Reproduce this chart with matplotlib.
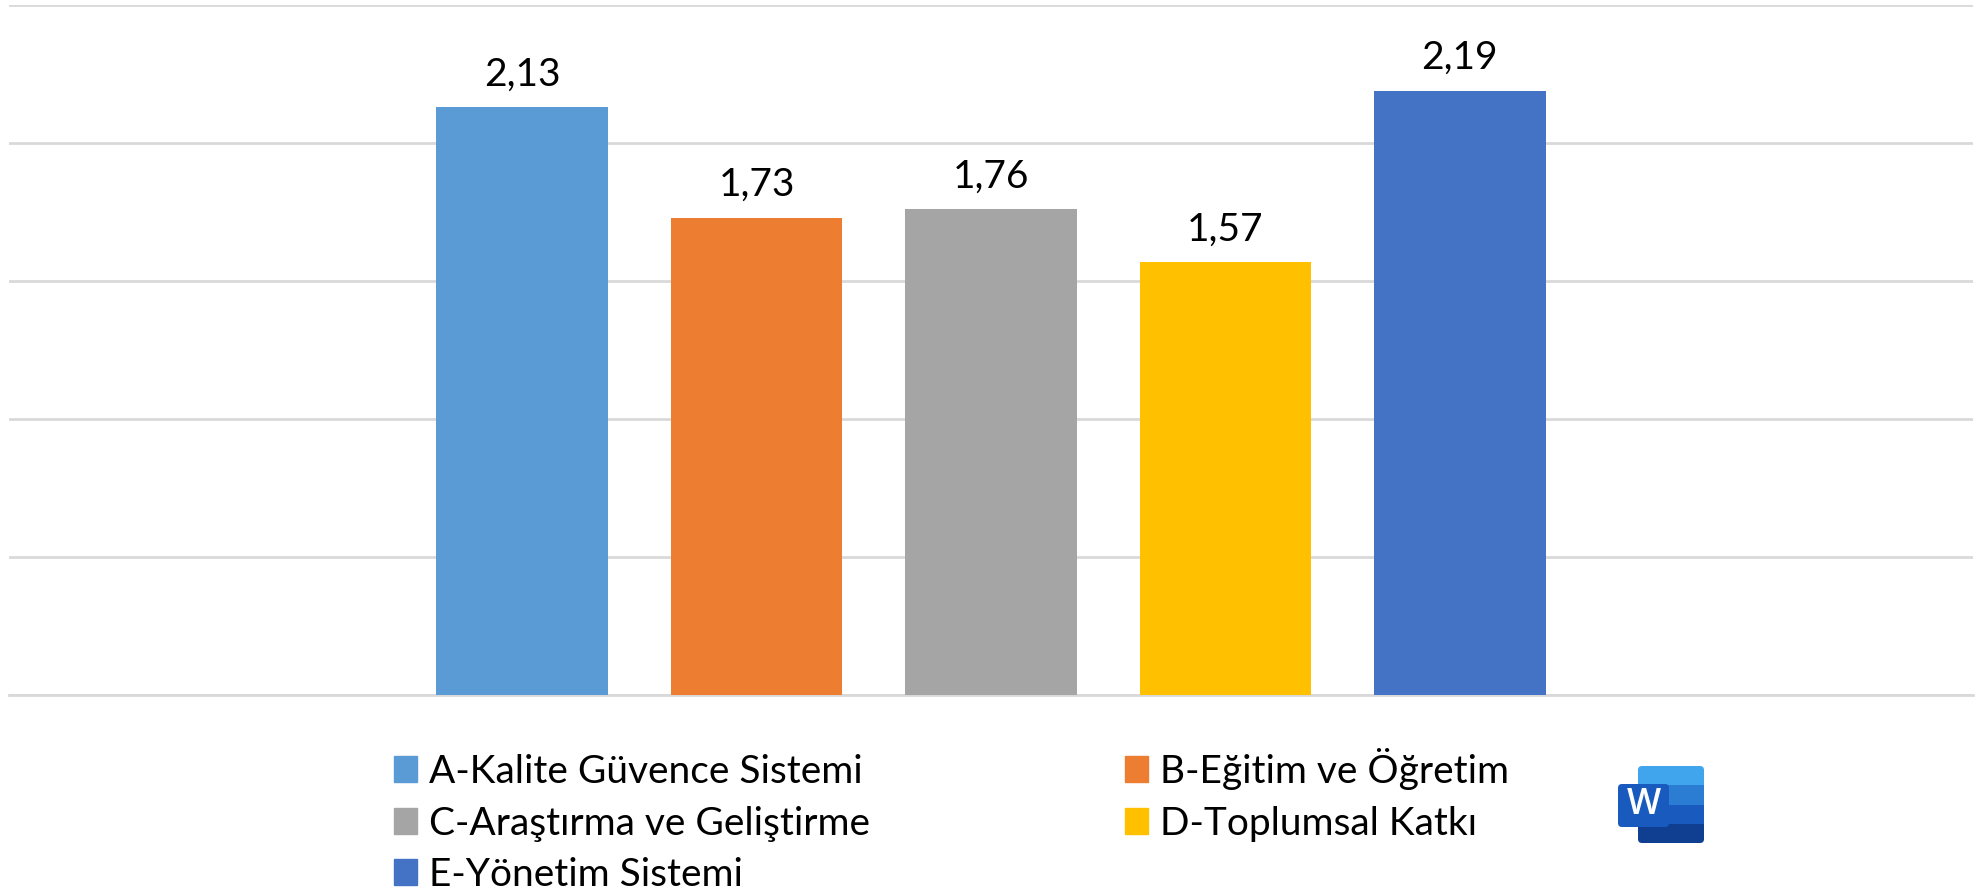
import matplotlib
matplotlib.use("Agg")
import matplotlib.pyplot as plt
from matplotlib.patches import FancyBboxPatch, Patch, Rectangle

plt.rcParams['font.family'] = ['Lato', 'DejaVu Sans']

# Data
categories = ['A-Kalite Güvence Sistemi', 'B-Eğitim ve Öğretim', 'C-Araştırma ve Geliştirme',
              'D-Toplumsal Katkı', 'E-Yönetim Sistemi']
values = [2.13, 1.73, 1.76, 1.57, 2.19]
value_labels = ['2,13', '1,73', '1,76', '1,57', '2,19']
colors = ['#5B9BD5', '#ED7D31', '#A5A5A5', '#FFC000', '#4472C4']
y_ticks = [0, 0.5, 1.0, 1.5, 2.0, 2.5]

W, H = 1988, 891
fig = plt.figure(figsize=(W / 100, H / 100), dpi=100)
ax = fig.add_axes([9 / W, 1 - 695 / H, (1973 - 9) / W, (695 - 5) / H])

x = list(range(len(values)))
bars = ax.bar(x, values, width=0.732, color=colors, zorder=3)
for xi, v, lab in zip(x, values, value_labels):
    ax.text(xi, v + 0.052, lab, ha='center', va='bottom', fontsize=28, color='black')

ax.set_xlim(-2.19, 6.19)
ax.set_ylim(0, 2.5)
ax.set_yticks(y_ticks)
ax.set_xticks([])
ax.tick_params(left=False, labelleft=False)
ax.grid(axis='y', color='#D9D9D9', linewidth=2, zorder=0)
for side in ['top', 'right', 'left', 'bottom']:
    ax.spines[side].set_visible(False)
ax.spines['bottom'].set_visible(True)
ax.spines['bottom'].set_color('#D9D9D9')
ax.spines['bottom'].set_linewidth(2)

# Legend fills by column, so reorder to get A B / C D / E
order = [0, 2, 4, 1, 3]
handles = [Patch(color=colors[i], label=categories[i]) for i in order]
fig.legend(handles=handles, ncol=2, frameon=False, fontsize=28,
           loc='upper left', bbox_to_anchor=(394 / W, 1 - 748 / H), bbox_transform=fig.transFigure,
           borderaxespad=0, borderpad=0, handlelength=0.6, handleheight=0.65,
           handletextpad=0.31, labelspacing=0.4, columnspacing=6.55)

# Word icon in the lower right corner
icon = fig.add_axes([0, 0, 1, 1], zorder=5)
icon.set_xlim(0, W)
icon.set_ylim(H, 0)
icon.axis('off')
stripes = ['#41A5EE', '#2B7CD3', '#185ABD', '#103F91']
page = FancyBboxPatch((1638, 766), 66, 77, boxstyle='round,pad=0,rounding_size=4',
                      facecolor='none', edgecolor='none')
icon.add_patch(page)
for i, c in enumerate(stripes):
    r = Rectangle((1638, 766 + i * 19.25), 66, 19.25, facecolor=c, edgecolor='none')
    r.set_clip_path(page)
    icon.add_patch(r)
icon.add_patch(FancyBboxPatch((1618, 784), 51, 43, boxstyle='round,pad=0,rounding_size=4',
                              facecolor='#185ABD', edgecolor='none'))
icon.text(1643.5, 805.5, 'W', color='white', fontsize=26, fontweight='semibold', ha='center', va='center',
          family='Open Sans')

fig.savefig('out.png', dpi=100)
